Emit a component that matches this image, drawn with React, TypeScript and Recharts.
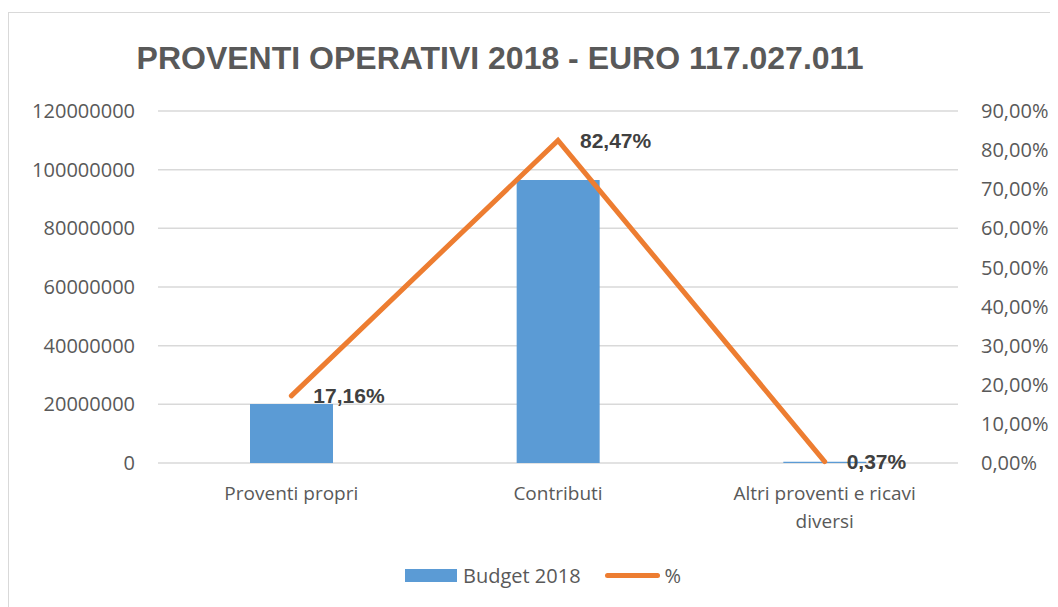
import { Bar, CartesianGrid, ComposedChart, LabelList, Legend, Line, XAxis, YAxis } from 'recharts';

const categories = ['Proventi propri', 'Contributi', 'Altri proventi e ricavi diversi'];
const budget2018 = [20081835, 96512176, 433000];
const percentShare = [17.16, 82.47, 0.37];
const leftTicks = [0, 20000000, 40000000, 60000000, 80000000, 100000000, 120000000];
const rightTicks = [0, 10, 20, 30, 40, 50, 60, 70, 80, 90];

const FONT = '"Open Sans", "Liberation Sans", sans-serif';
const BOLD_FONT = '"Liberation Sans", Arial, sans-serif';
const INK = '#595959';
const BLUE = '#5b9bd5';
const ORANGE = '#ed7d31';

const rows = categories.map((name, i) => ({ name, budget: budget2018[i], pct: percentShare[i] }));

const fmtPct = (v: number) => `${v.toFixed(2).replace('.', ',')}%`;

// crude word wrap, roughly what Excel does with a category band this wide
function wrapWords(label: string, maxChars = 24): string[] {
  const lines: string[] = [];
  let cur = '';
  for (const word of label.split(' ')) {
    const next = cur ? `${cur} ${word}` : word;
    if (next.length > maxChars && cur) {
      lines.push(cur);
      cur = word;
    } else {
      cur = next;
    }
  }
  if (cur) lines.push(cur);
  return lines;
}

function CategoryTick({ x, y, payload }: any) {
  const lines = wrapWords(String(payload.value));
  return (
    <text x={x} y={y + 35} textAnchor="middle" fill={INK} fontSize={19} fontFamily={FONT}>
      {lines.map((line, i) => (
        <tspan key={line} x={x} dy={i === 0 ? 0 : 28}>
          {line}
        </tspan>
      ))}
    </text>
  );
}

function PctLabel({ x, y, value }: any) {
  return (
    <text x={x + 22} y={y} dy="0.35em" fill="#404040" fontSize={21} fontWeight="bold" fontFamily={BOLD_FONT}>
      {fmtPct(value)}
    </text>
  );
}

function LegendBox() {
  return (
    <div style={{ display: 'flex', alignItems: 'center', paddingLeft: 396, fontFamily: FONT, fontSize: 20, color: INK }}>
      <span style={{ width: 52, height: 13, background: BLUE, marginRight: 6 }} />
      <span>Budget 2018</span>
      <span style={{ width: 55, height: 5, borderRadius: 3, background: ORANGE, marginLeft: 24, marginRight: 5 }} />
      <span>%</span>
    </div>
  );
}

export default function App() {
  return (
    <div
      style={{
        position: 'relative',
        marginTop: 4,
        width: 1060,
        height: 610,
        borderLeft: '1px solid #d9d9d9',
        borderTop: '1px solid #d9d9d9',
        overflow: 'hidden',
      }}
    >
      <div
        style={{
          position: 'absolute',
          left: 0,
          width: 982,
          top: 27,
          textAlign: 'center',
          fontFamily: BOLD_FONT,
          fontWeight: 'bold',
          fontSize: 32,
          color: INK,
        }}
      >
        PROVENTI OPERATIVI 2018 - EURO 117.027.011
      </div>
      <ComposedChart width={1049} height={594} data={rows} margin={{ top: 98, right: 0, bottom: 15, left: 0 }}>
        <CartesianGrid yAxisId="left" vertical={false} stroke="#d9d9d9" strokeWidth={1.5} />
        <XAxis
          dataKey="name"
          axisLine={false}
          tickLine={false}
          tickSize={0}
          height={99}
          interval={0}
          tick={<CategoryTick />}
        />
        <YAxis
          yAxisId="left"
          orientation="left"
          width={149}
          domain={[0, 120000000]}
          ticks={leftTicks}
          axisLine={false}
          tickLine={false}
          tickSize={0}
          tickMargin={23}
          tick={{ fill: INK, fontSize: 20, fontFamily: FONT }}
        />
        <YAxis
          yAxisId="right"
          orientation="right"
          width={100}
          domain={[0, 90]}
          ticks={rightTicks}
          tickFormatter={fmtPct}
          axisLine={false}
          tickLine={false}
          tickSize={0}
          tickMargin={23}
          tick={{ fill: INK, fontSize: 20, fontFamily: FONT, textAnchor: 'start' }}
        />
        <Bar yAxisId="left" dataKey="budget" name="Budget 2018" fill={BLUE} barSize={83} isAnimationActive={false} />
        <Line
          yAxisId="right"
          dataKey="pct"
          name="%"
          stroke={ORANGE}
          strokeWidth={5}
          strokeLinecap="round"
          dot={false}
          activeDot={false}
          isAnimationActive={false}
        >
          <LabelList dataKey="pct" content={<PctLabel />} />
        </Line>
        <Legend verticalAlign="bottom" height={30} content={<LegendBox />} />
      </ComposedChart>
    </div>
  );
}
